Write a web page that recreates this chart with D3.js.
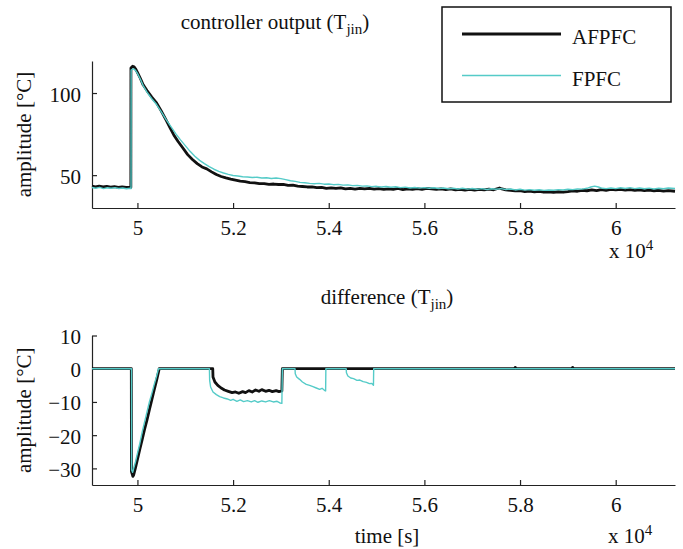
<!DOCTYPE html>
<html>
<head>
<meta charset="utf-8">
<script src="https://cdn.jsdelivr.net/npm/d3@7"></script>
<style>
  body { margin: 0; background: #fff; }
  svg { display: block; font-family: "Liberation Serif", "Times New Roman", serif; }
  .axis path, .axis line { stroke: #222; stroke-width: 1.2; }
  .axis text { font-size: 21px; fill: #111; font-family: "Liberation Serif", "Times New Roman", serif; }
  .label { font-size: 21px; fill: #111; }
</style>
</head>
<body>
<div id="chart"></div>
<script>
// Data: [time in s, value in °C]
const seriesNames = ["AFPFC", "FPFC"];
const xTicks = [50000, 52000, 54000, 56000, 58000, 60000];
const outputTicks = [50, 100];
const diffTicks = [10, 0, -10, -20, -30];

const afpfcOutput = [
  [49050, 43.4], [49120, 42.9], [49200, 43.3], [49280, 42.8], [49360, 43.1], [49440, 42.7],
  [49520, 43.0], [49600, 42.6], [49680, 42.9], [49760, 42.5], [49840, 42.7], [49862, 42.6],
  [49864, 115.3], [49900, 116.3], [49930, 116.0], [49960, 114.8], [50000, 112.6], [50060, 109.0],
  [50120, 105.0], [50200, 101.5], [50300, 97.5], [50400, 94.0], [50500, 89.0], [50600, 83.5],
  [50680, 79.0], [50760, 74.5], [50850, 70.5], [50950, 66.5], [51050, 62.5], [51150, 59.5],
  [51250, 57.0], [51350, 55.0], [51450, 53.8], [51550, 52.0], [51650, 50.4], [51750, 49.2],
  [51850, 48.3], [51950, 47.6], [52050, 47.0], [52150, 46.4], [52250, 46.0], [52350, 45.4],
  [52450, 45.3], [52550, 44.8], [52650, 44.9], [52750, 44.4], [52850, 44.6], [52950, 44.3],
  [53050, 44.4], [53150, 43.8], [53250, 43.9], [53350, 43.3], [53450, 43.1], [53550, 42.8],
  [53650, 42.9], [53750, 42.4], [53850, 42.6], [53950, 42.0], [54050, 42.3], [54150, 41.9],
  [54250, 42.2], [54350, 41.6], [54450, 41.9], [54550, 41.5], [54650, 42.0], [54750, 41.6],
  [54850, 41.9], [54950, 41.5], [55050, 41.8], [55150, 41.3], [55250, 41.7], [55350, 41.4],
  [55450, 41.9], [55550, 41.2], [55650, 41.6], [55750, 41.3], [55850, 41.8], [55950, 41.4],
  [56050, 41.9], [56150, 41.6], [56250, 41.3], [56350, 41.7], [56450, 41.2], [56550, 41.6],
  [56650, 41.0], [56750, 41.4], [56850, 40.9], [56950, 41.3], [57050, 40.9], [57150, 41.4],
  [57250, 41.0], [57350, 41.5], [57450, 41.1], [57570, 42.2], [57620, 41.6], [57700, 41.0],
  [57800, 40.8], [57900, 40.4], [58000, 40.6], [58100, 40.0], [58200, 40.3], [58300, 39.8],
  [58400, 40.1], [58500, 39.6], [58600, 39.9], [58700, 39.5], [58800, 39.9], [58900, 39.6],
  [59000, 40.0], [59100, 40.5], [59200, 40.2], [59300, 40.8], [59400, 40.5], [59500, 41.0],
  [59600, 40.6], [59700, 41.2], [59800, 40.8], [59900, 41.3], [60000, 41.0], [60100, 41.4],
  [60200, 40.9], [60300, 41.2], [60400, 40.7], [60500, 41.1], [60600, 40.6], [60700, 40.9],
  [60800, 40.5], [60900, 40.8], [61000, 40.3], [61100, 40.6], [61240, 40.2]
];

const fpfcOutput = [
  [49050, 42.5], [49130, 42.0], [49210, 42.6], [49290, 41.8], [49370, 42.3], [49450, 42.0],
  [49530, 42.4], [49610, 41.9], [49690, 42.2], [49770, 41.7], [49850, 42.0], [49866, 41.8],
  [49868, 114.0], [49920, 114.8], [49960, 113.8], [50000, 112.0], [50060, 108.5], [50120, 104.5],
  [50200, 100.5], [50300, 96.5], [50400, 93.0], [50500, 88.5], [50600, 83.8], [50700, 79.5],
  [50800, 75.3], [50900, 71.5], [51000, 68.0], [51100, 64.5], [51200, 61.5], [51300, 59.0],
  [51400, 57.0], [51500, 55.2], [51600, 53.6], [51700, 52.3], [51800, 51.3], [51900, 50.5],
  [52000, 49.8], [52100, 49.5], [52200, 49.0], [52300, 48.9], [52400, 48.6], [52500, 48.7],
  [52600, 48.3], [52700, 48.4], [52800, 48.0], [52900, 48.3], [53000, 47.9], [53100, 47.3],
  [53200, 46.6], [53300, 46.2], [53400, 45.6], [53500, 45.4], [53600, 45.0], [53700, 44.8],
  [53800, 45.0], [53900, 44.5], [54000, 44.6], [54100, 44.2], [54200, 44.4], [54300, 43.9],
  [54400, 44.1], [54500, 43.6], [54600, 43.8], [54700, 43.3], [54800, 43.5], [54900, 43.0],
  [55000, 43.2], [55100, 42.8], [55200, 43.1], [55300, 42.6], [55400, 42.9], [55500, 42.4],
  [55600, 42.7], [55700, 42.2], [55800, 42.5], [55900, 42.1], [56000, 42.4], [56100, 42.0],
  [56200, 42.3], [56300, 41.9], [56400, 42.2], [56500, 41.7], [56600, 42.0], [56700, 41.6],
  [56800, 42.0], [56900, 41.5], [57000, 41.9], [57100, 41.4], [57200, 41.8], [57300, 41.3],
  [57400, 41.7], [57500, 41.4], [57600, 41.8], [57700, 41.3], [57800, 41.6], [57900, 41.0],
  [58000, 41.4], [58100, 40.9], [58200, 41.2], [58300, 40.8], [58400, 41.1], [58500, 40.7],
  [58600, 41.0], [58700, 40.8], [58800, 41.2], [58900, 41.0], [59000, 41.4], [59100, 41.2],
  [59200, 41.6], [59300, 41.5], [59400, 42.0], [59480, 42.8], [59560, 43.3], [59640, 42.8],
  [59720, 42.0], [59800, 41.8], [59900, 42.2], [60000, 41.8], [60100, 42.3], [60200, 41.9],
  [60300, 42.4], [60400, 41.8], [60500, 42.2], [60600, 41.7], [60700, 42.1], [60800, 41.6],
  [60900, 42.0], [61000, 41.7], [61100, 42.2], [61240, 41.9]
];

const afpfcDiff = [
  [49050, 0], [49872, 0], [49875, -31.0], [49905, -32.4], [49920, -32.0], [49960, -29.8],
  [50000, -27.3], [50050, -24.2], [50100, -21.3], [50150, -18.2], [50200, -15.4], [50250, -12.3],
  [50300, -9.4], [50350, -6.4], [50400, -3.5], [50450, -0.4], [50455, 0],
  [51575, 0], [51580, -2.5], [51620, -4.0], [51680, -5.0], [51750, -5.8], [51820, -6.4],
  [51900, -6.8], [51980, -7.2], [52050, -7.0], [52120, -7.4], [52200, -6.9], [52260, -7.2],
  [52330, -6.6], [52400, -7.0], [52470, -6.4], [52540, -6.8], [52600, -6.3], [52680, -6.8],
  [52750, -6.5], [52820, -6.9], [52900, -6.6], [52960, -6.9], [53020, -6.7], [53030, 0],
  [57880, 0], [57900, 0.4], [57920, 0], [59080, 0], [59100, 0.4], [59120, 0], [61240, 0]
];

const fpfcDiff = [
  [49050, 0], [49876, 0], [49878, -30.5], [49900, -31.2], [49930, -29.5], [49960, -28.0],
  [50000, -25.5], [50050, -22.5], [50100, -19.0], [50150, -16.0], [50200, -13.0], [50250, -10.0],
  [50300, -7.5], [50350, -4.8], [50400, -2.3], [50440, 0],
  [51505, 0], [51510, -3.5], [51530, -5.5], [51580, -7.0], [51650, -7.8], [51720, -8.4],
  [51800, -8.8], [51880, -9.1], [51950, -9.5], [52000, -9.2], [52080, -9.8], [52150, -9.4],
  [52220, -9.9], [52300, -9.6], [52380, -10.0], [52450, -9.6], [52520, -10.1], [52600, -9.7],
  [52680, -10.0], [52760, -9.6], [52840, -10.0], [52920, -9.8], [52980, -10.3], [53020, -10.4],
  [53030, 0], [53295, 0], [53300, -1.5], [53330, -2.5], [53390, -3.2], [53450, -4.0],
  [53530, -4.7], [53600, -5.0], [53670, -5.4], [53740, -5.8], [53810, -6.2], [53860, -5.9],
  [53910, -6.5], [53935, -6.7], [53940, 0], [54365, 0], [54370, -1.2], [54400, -2.2],
  [54460, -2.8], [54520, -3.0], [54590, -3.5], [54650, -3.4], [54720, -3.9], [54790, -4.1],
  [54850, -4.5], [54900, -4.4], [54935, -5.0], [54940, 0], [61240, 0]
];

const width = 683;
const height = 549;
const colors = { AFPFC: "#111111", FPFC: "#55cbc8" };
const strokeWidths = { AFPFC: 2.8, FPFC: 1.4 };

/*******************************/
/*    Append the containers    */
/*******************************/
const svg = d3.select("#chart")
  .append("svg")
    .attr("width", width)
    .attr("height", height)
    .attr("viewBox", [0, 0, width, height]);

// Shared x scale (seconds)
const xScale = d3.scaleLinear()
  .domain([49050, 61240])
  .range([92, 675]);

const yOutput = d3.scaleLinear()
  .domain([30, 119.5])
  .range([208, 61]);

const yDiff = d3.scaleLinear()
  .domain([-35, 10])
  .range([485, 335.5]);

const drawPanel = (yScale, yTickValues, lines) => {
  const bottomAxis = d3.axisBottom(xScale)
    .tickValues(xTicks)
    .tickFormat(d => d / 1e4)
    .tickSize(-5)
    .tickSizeOuter(0)
    .tickPadding(12);
  svg
    .append("g")
      .attr("class", "axis")
      .attr("transform", `translate(0, ${yScale.range()[0]})`)
      .call(bottomAxis);

  const leftAxis = d3.axisLeft(yScale)
    .tickValues(yTickValues)
    .tickSize(-5)
    .tickSizeOuter(0)
    .tickPadding(11);
  svg
    .append("g")
      .attr("class", "axis")
      .attr("transform", `translate(${xScale.range()[0]}, 0)`)
      .call(leftAxis)
    .selectAll(".tick text")
      .attr("dy", "0.38em");

  const lineGenerator = d3.line()
    .x(d => xScale(d[0]))
    .y(d => yScale(d[1]));

  svg
    .append("g")
    .selectAll("path")
      .data(lines)
      .join("path")
      .attr("d", d => lineGenerator(d.values))
      .attr("fill", "none")
      .attr("stroke", d => colors[d.name])
      .attr("stroke-width", d => strokeWidths[d.name])
      .attr("stroke-linejoin", "round");
};

drawPanel(yOutput, outputTicks, [
  { name: "AFPFC", values: afpfcOutput },
  { name: "FPFC", values: fpfcOutput }
]);
drawPanel(yDiff, diffTicks, [
  { name: "AFPFC", values: afpfcDiff },
  { name: "FPFC", values: fpfcDiff }
]);

// Titles with subscript
const addTitle = (text, x, y) => {
  const t = svg
    .append("text")
      .attr("class", "label")
      .attr("x", x)
      .attr("y", y)
      .attr("text-anchor", "middle");
  t.append("tspan").text(text + " (T");
  t.append("tspan").text("jin").attr("dy", 5).style("font-size", "15px");
  t.append("tspan").text(")").attr("dy", -5);
};
addTitle("controller output", 275, 29);
addTitle("difference", 387, 304);

// Y labels
[yOutput, yDiff].forEach(yScale => {
  const [y0, y1] = yScale.range();
  svg
    .append("text")
      .attr("class", "label")
      .attr("text-anchor", "middle")
      .attr("transform", `translate(31, ${(y0 + y1) / 2}) rotate(-90)`)
      .text("amplitude [°C]");
});

// Exponent labels
const addExponent = (x, y) => {
  const t = svg
    .append("text")
      .attr("class", "label")
      .attr("x", x)
      .attr("y", y);
  t.append("tspan").text("x 10");
  t.append("tspan").text("4").attr("dy", -8).style("font-size", "15px");
};
addExponent(609, 258);
addExponent(608, 543);

svg
  .append("text")
    .attr("class", "label")
    .attr("x", 387)
    .attr("y", 543)
    .attr("text-anchor", "middle")
    .text("time [s]");

// Legend
const legend = svg
  .append("g")
    .attr("transform", "translate(442, 7)");
legend
  .append("rect")
    .attr("width", 229)
    .attr("height", 95)
    .attr("fill", "#fff")
    .attr("stroke", "#111")
    .attr("stroke-width", 1.5);
seriesNames.forEach((name, i) => {
  const y = 27 + i * 41.5;
  legend
    .append("line")
      .attr("x1", 20)
      .attr("x2", 119)
      .attr("y1", y)
      .attr("y2", y)
      .attr("stroke", colors[name])
      .attr("stroke-width", name === "AFPFC" ? 3 : 1.5);
  legend
    .append("text")
      .attr("class", "label")
      .attr("x", 130)
      .attr("y", y + 10)
      .text(name);
});
</script>
</body>
</html>
